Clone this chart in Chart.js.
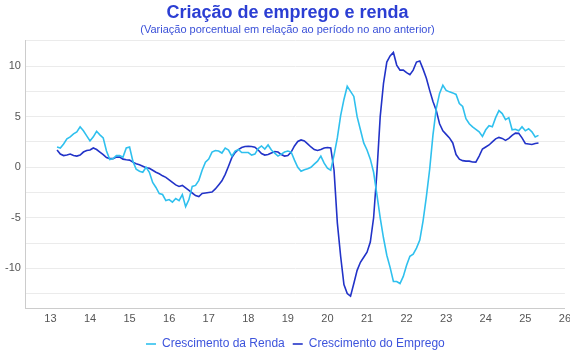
<!DOCTYPE html>
<html>
<head>
<meta charset="utf-8">
<script src="https://cdn.jsdelivr.net/npm/chart.js@4.4.1/dist/chart.umd.min.js"></script>
<style>
  html, body { margin: 0; padding: 0; background: #fff; overflow: hidden; }
  #wrap { width: 575px; height: 360px; }
</style>
</head>
<body>
<div id="wrap"><canvas id="chart"></canvas></div>
<script>
// monthly series, first point = March 2013, last = May 2025
const startYear = 13;
const startMonth = 2; // 0 = Jan

const rendaValues = [
	// 2013 Mar-Dec
	2.0, 1.9, 2.3, 2.8, 3.0, 3.3, 3.5, 4.0, 3.6, 3.1,
	// 2014
	2.6, 3.0, 3.55, 3.2, 2.9, 1.6, 0.75, 0.85, 1.15, 1.15, 1.0, 1.9,
	// 2015
	2.0, 0.6, -0.2, -0.4, -0.5, 0.0, -0.5, -1.5, -2.0, -2.6, -2.7, -3.3,
	// 2016
	-3.2, -3.45, -3.1, -3.3, -2.7, -3.9, -3.2, -1.9, -1.8, -1.3, -0.3, 0.5,
	// 2017
	0.8, 1.5, 1.65, 1.6, 1.4, 1.9, 1.7, 1.1, 1.6, 1.75, 1.45, 1.45,
	// 2018
	1.45, 1.2, 1.3, 1.85, 2.1, 1.8, 2.2, 1.7, 1.4, 1.1, 1.3, 1.5,
	// 2019
	1.6, 1.5, 0.7, 0.0, -0.4, -0.25, -0.15, 0.0, 0.3, 0.6, 1.1, 0.4,
	// 2020
	-0.1, -0.3, 1.2, 2.9, 5.1, 6.7, 8.0, 7.5, 7.0, 5.0, 3.7, 2.4,
	// 2021
	1.7, 0.8, -0.5, -2.7, -5.0, -7.0, -8.7, -9.9, -11.3, -11.3, -11.5, -10.8,
	// 2022
	-9.7, -8.8, -8.6, -8.0, -7.2, -5.3, -2.9, -0.2, 3.2, 5.8, 7.3, 8.1,
	// 2023
	7.6, 7.45, 7.35, 7.2, 6.3, 6.0, 4.8, 4.3, 4.0, 3.75, 3.5, 3.05,
	// 2024
	3.7, 4.1, 4.0, 4.9, 5.6, 5.3, 4.7, 4.9, 3.7, 3.75, 3.6, 4.0,
	// 2025 Jan-May
	3.6, 3.8, 3.5, 3.0, 3.15
];

const empregoValues = [
	// 2013 Mar-Dec
	1.7, 1.3, 1.15, 1.2, 1.3, 1.15, 1.1, 1.2, 1.5, 1.65,
	// 2014
	1.7, 1.9, 1.75, 1.5, 1.25, 0.95, 0.85, 0.85, 1.0, 1.0, 0.8, 0.73,
	// 2015
	0.7, 0.5, 0.35, 0.25, 0.1, -0.05, -0.1, -0.3, -0.5, -0.65, -0.85, -1.0,
	// 2016
	-1.25, -1.5, -1.75, -1.9, -1.8, -2.05, -2.3, -2.55, -2.8, -2.9, -2.6, -2.55,
	// 2017
	-2.5, -2.45, -2.15, -1.75, -1.35, -0.7, 0.1, 0.95, 1.45, 1.75, 1.95, 2.05,
	// 2018
	2.08, 2.05, 1.98, 1.7, 1.35, 1.2, 1.25, 1.4, 1.55, 1.5, 1.25, 1.1,
	// 2019
	1.15, 1.5, 2.1, 2.55, 2.7, 2.6, 2.3, 2.0, 1.75, 1.65, 1.75, 1.9,
	// 2020
	1.95, 1.9, -0.3, -5.5, -8.8, -11.6, -12.5, -12.75, -11.5, -10.2, -9.4, -8.9,
	// 2021
	-8.4, -7.4, -5.0, -0.5, 5.0, 8.3, 10.4, 11.0, 11.35, 10.1, 9.6, 9.6,
	// 2022
	9.35, 9.15, 9.6, 10.4, 10.5, 9.7, 8.8, 7.6, 6.5, 5.6, 4.3, 3.6,
	// 2023
	3.25, 2.9, 2.4, 1.25, 0.8, 0.65, 0.6, 0.6, 0.52, 0.5, 1.1, 1.8,
	// 2024
	2.0, 2.2, 2.5, 2.8, 2.95, 2.85, 2.65, 2.85, 3.15, 3.37, 3.35, 2.9,
	// 2025 Jan-May
	2.35, 2.3, 2.25, 2.35, 2.4
];

const xTickYears = [13, 14, 15, 16, 17, 18, 19, 20, 21, 22, 23, 24, 25, 26];
const yLabelValues = [-10, -5, 0, 5, 10];

// x position of each month, in years since 2000
const periods = rendaValues.map((_, i) => startYear + (startMonth + i) / 12);

function toPoints(values) {
	return values.map((v, i) => ({ x: periods[i], y: v }));
}

// the legend sits centred under the plot area, not under the whole canvas
const legendShift = {
	id: 'legendShift',
	afterLayout(chart) {
		const legend = chart.legend;
		const dx = (chart.chartArea.left + chart.chartArea.right) / 2 - (legend.left + legend.right) / 2;
		legend.left += dx;
		legend.right += dx;
	}
};

const fontFamily = "'Liberation Sans', Arial, sans-serif";

const ctx = document.getElementById('chart').getContext('2d');
new Chart(ctx, {
	type: 'line',
	data: {
		datasets: [{
			label: 'Crescimento da Renda',
			data: toPoints(rendaValues),
			borderColor: '#2fc0ee',
			backgroundColor: '#2fc0ee',
			borderWidth: 1.6,
			pointRadius: 0,
			tension: 0
		}, {
			label: 'Crescimento do Emprego',
			data: toPoints(empregoValues),
			borderColor: '#2233c8',
			backgroundColor: '#2233c8',
			borderWidth: 1.6,
			pointRadius: 0,
			tension: 0
		}]
	},
	plugins: [legendShift],
	options: {
		responsive: true,
		maintainAspectRatio: false,
		animation: false,
		layout: { padding: { top: 2, left: 0, right: 0, bottom: 0 } },
		plugins: {
			title: {
				display: true,
				text: 'Criação de emprego e renda',
				color: '#2b3ed3',
				font: { family: fontFamily, size: 18, weight: 'bold' },
				padding: { top: 0, bottom: 0 }
			},
			subtitle: {
				display: true,
				text: '(Variação porcentual em relação ao período no ano anterior)',
				color: '#3a50d8',
				font: { family: fontFamily, size: 11 },
				padding: { top: 0, bottom: 4 }
			},
			legend: {
				display: true,
				position: 'bottom',
				labels: {
					color: '#3d54dc',
					font: { family: fontFamily, size: 12 },
					usePointStyle: true,
					pointStyleWidth: 10,
					pointStyle: 'line',
					boxHeight: 8,
					padding: 8
				}
			},
			tooltip: { enabled: false }
		},
		scales: {
			x: {
				type: 'linear',
				min: 12.38,
				max: 26,
				afterBuildTicks: (axis) => {
					axis.ticks = xTickYears.map(v => ({ value: v }));
				},
				border: { color: '#cccccc' },
				grid: { display: false, drawTicks: false },
				ticks: {
					color: '#555555',
					font: { family: fontFamily, size: 11 },
					padding: 4,
					maxRotation: 0,
					autoSkip: false
				}
			},
			y: {
				min: -14,
				max: 12.5,
				afterBuildTicks: (axis) => {
					const t = [];
					for (let v = -12.5; v <= 12.5; v += 2.5) t.push({ value: v });
					axis.ticks = t;
				},
				border: { color: '#cccccc' },
				grid: { color: '#ebebeb', drawTicks: false },
				ticks: {
					color: '#555555',
					font: { family: fontFamily, size: 11 },
					padding: 5,
					callback: (v) => yLabelValues.includes(v) ? String(v) : ''
				}
			}
		}
	}
});
</script>
</body>
</html>
